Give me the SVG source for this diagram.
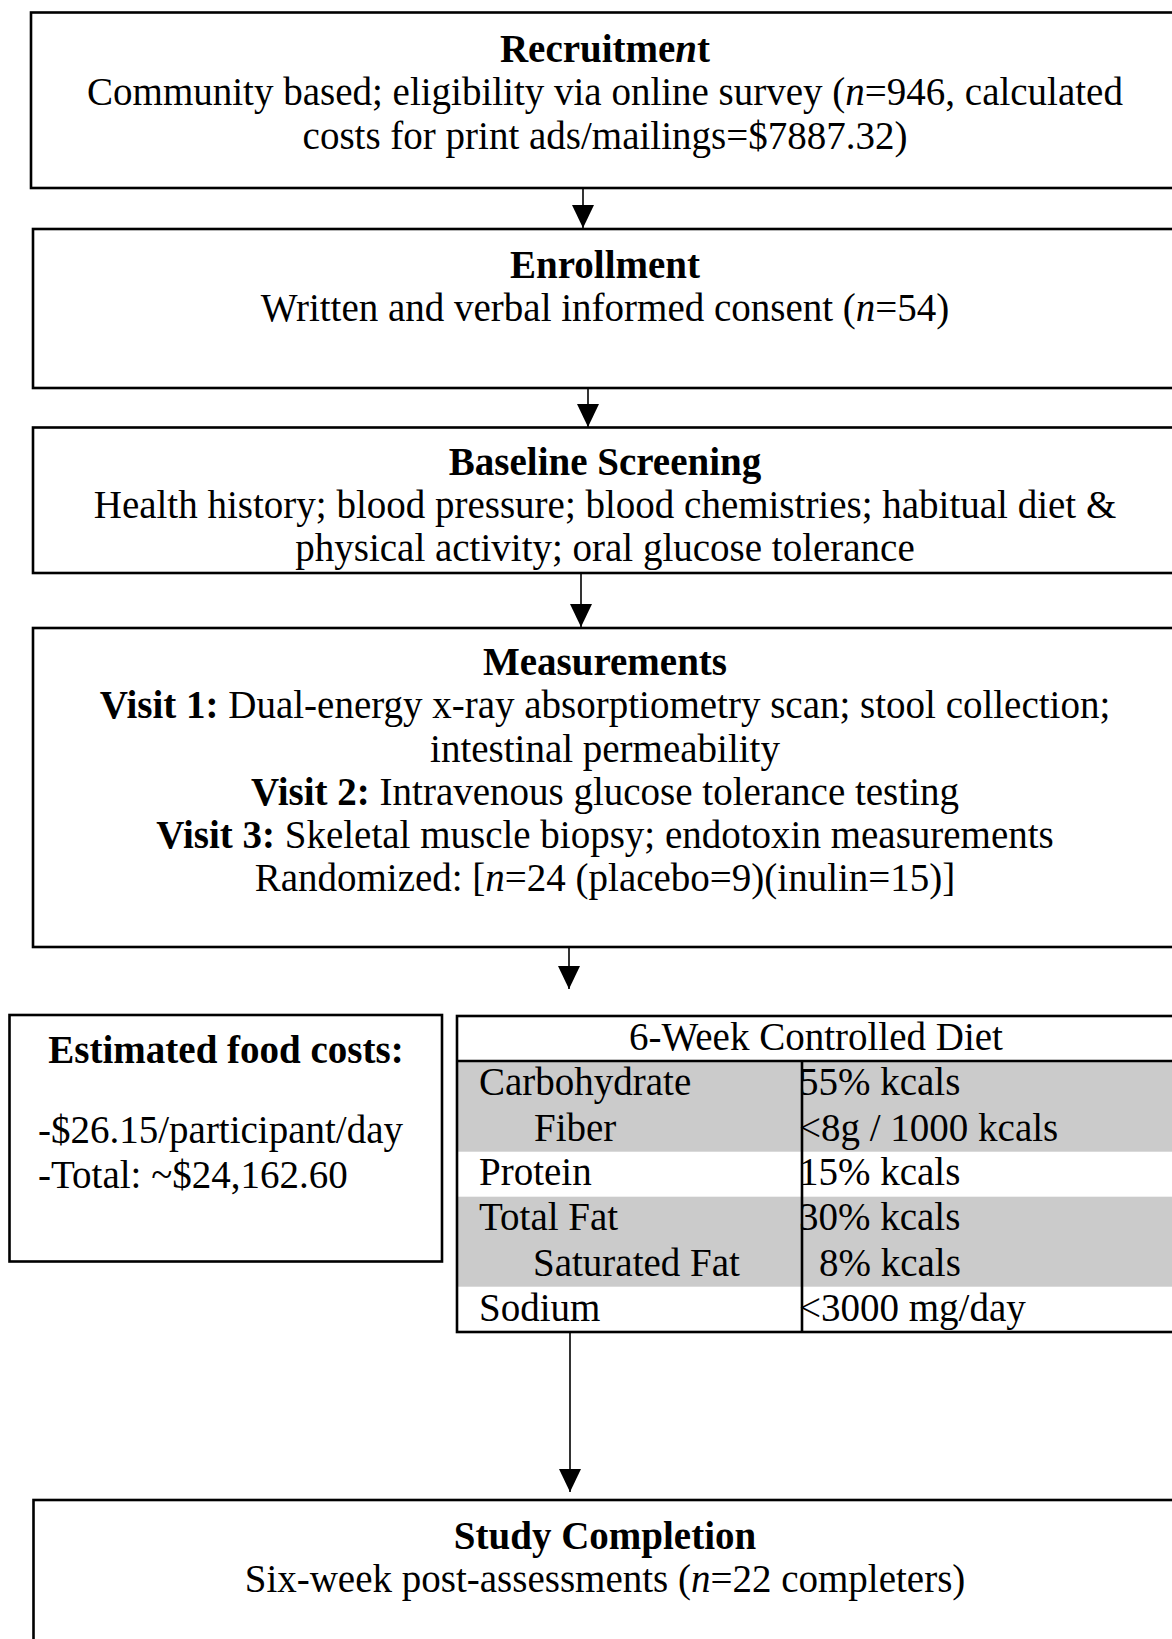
<svg xmlns="http://www.w3.org/2000/svg" width="1172" height="1639" viewBox="0 0 1172 1639">
<defs>
<style>
text{font-family:'Liberation Serif','Times New Roman',serif;font-size:39px;fill:#000}
.c{text-anchor:middle}
.b{font-weight:bold}
.i{font-style:italic}
.box{fill:#fff;stroke:#000;stroke-width:2.6}
.conn{stroke:#000;stroke-width:1.6;fill:none}
.gray{fill:#cbcbcb}
.tl{stroke:#000;stroke-width:2.6;fill:none}
</style>
<marker id="ah" markerUnits="userSpaceOnUse" markerWidth="22" markerHeight="24" viewBox="0 0 22 24" refX="11" refY="23" orient="auto-start-reverse">
<path d="M0,0 L22,0 L11,23 Z" fill="#000" transform="rotate(-90 11 12)"/>
</marker>
<marker id="arr" markerUnits="userSpaceOnUse" markerWidth="24" markerHeight="22" viewBox="0 0 24 22" refX="23" refY="11" orient="auto">
<path d="M0,0 L23,11 L0,22 Z" fill="#000"/>
</marker>
</defs>
<rect width="1172" height="1639" fill="#fff"/>

<g id="recruitment">
<rect class="box" x="31" y="12.5" width="1160" height="175.5"/>
<text class="c b" x="605" y="62">Recruitme<tspan class="i">n</tspan>t</text>
<text class="c" x="605" y="105">Community based; eligibility via online survey (<tspan class="i">n</tspan>=946, calculated</text>
<text class="c" x="605" y="149">costs for print ads/mailings=$7887.32)</text>
</g>

<g id="enrollment">
<rect class="box" x="33" y="229" width="1160" height="159"/>
<text class="c b" x="605" y="278">Enrollment</text>
<text class="c" x="605" y="321">Written and verbal informed consent (<tspan class="i">n</tspan>=54)</text>
</g>

<g id="baseline">
<rect class="box" x="33" y="427.5" width="1160" height="145.5"/>
<text class="c b" x="605" y="475">Baseline Screening</text>
<text class="c" x="605" y="518">Health history; blood pressure; blood chemistries; habitual diet &amp;</text>
<text class="c" x="605" y="561">physical activity; oral glucose tolerance</text>
</g>

<g id="measurements">
<rect class="box" x="33" y="628" width="1160" height="319"/>
<text class="c b" x="605" y="675">Measurements</text>
<text class="c" x="605" y="718"><tspan class="b">Visit 1:</tspan> Dual-energy x-ray absorptiometry scan; stool collection;</text>
<text class="c" x="605" y="762">intestinal permeability</text>
<text class="c" x="605" y="805"><tspan class="b">Visit 2:</tspan> Intravenous glucose tolerance testing</text>
<text class="c" x="605" y="848"><tspan class="b">Visit 3:</tspan> Skeletal muscle biopsy; endotoxin measurements</text>
<text class="c" x="605" y="891">Randomized: [<tspan class="i">n</tspan>=24 (placebo=9)(inulin=15)]</text>
</g>

<g id="food-costs">
<rect class="box" x="9.5" y="1015" width="432.5" height="246.5"/>
<text class="c b" x="226" y="1063">Estimated food costs:</text>
<text x="38" y="1143">-$26.15/participant/day</text>
<text x="38" y="1188">-Total: ~$24,162.60</text>
</g>

<g id="diet-table">
<rect x="457" y="1016" width="730" height="316" fill="#fff"/>
<rect class="gray" x="457" y="1061" width="730" height="90.7"/>
<rect class="gray" x="457" y="1196.7" width="730" height="90"/>
<text class="c" x="816" y="1050">6-Week Controlled Diet</text>
<text x="479" y="1095">Carbohydrate</text>
<text x="534" y="1141">Fiber</text>
<text x="479" y="1185">Protein</text>
<text x="479" y="1230">Total Fat</text>
<text x="533" y="1276">Saturated Fat</text>
<text x="479" y="1321">Sodium</text>
<text x="799" y="1095">55% kcals</text>
<text x="799" y="1141">&lt;8g / 1000 kcals</text>
<text x="799" y="1185">15% kcals</text>
<text x="799" y="1230">30% kcals</text>
<text x="819" y="1276">8% kcals</text>
<text x="799" y="1321">&lt;3000 mg/day</text>
<line class="tl" x1="457" y1="1061" x2="1187" y2="1061"/>
<line class="tl" x1="802" y1="1061" x2="802" y2="1332"/>
<rect class="tl" x="457" y="1016" width="730" height="316"/>
</g>

<g id="study-completion">
<rect class="box" x="33.5" y="1500" width="1160" height="160"/>
<text class="c b" x="605" y="1549">Study Completion</text>
<text class="c" x="605" y="1592">Six-week post-assessments (<tspan class="i">n</tspan>=22 completers)</text>
</g>

<g id="connectors">
<line class="conn" x1="583" y1="189" x2="583" y2="228" marker-end="url(#arr)"/>
<line class="conn" x1="588" y1="389" x2="588" y2="427" marker-end="url(#arr)"/>
<line class="conn" x1="581" y1="574" x2="581" y2="627" marker-end="url(#arr)"/>
<line class="conn" x1="569" y1="948" x2="569" y2="989" marker-end="url(#arr)"/>
<line class="conn" x1="570" y1="1333" x2="570" y2="1492" marker-end="url(#arr)"/>
</g>
</svg>
